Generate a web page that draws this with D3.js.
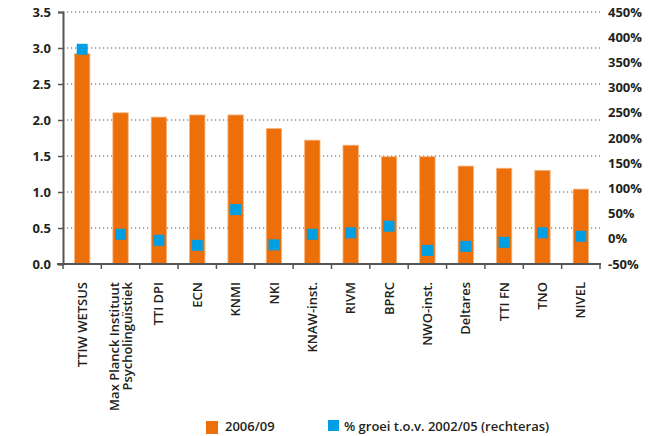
<!DOCTYPE html>
<html><head><meta charset="utf-8">
<script src="https://cdn.jsdelivr.net/npm/d3@7"></script>
<style>
body{margin:0;background:#fff;}
text{font-family:"Open Sans",sans-serif;font-weight:600;fill:#231f20;}
</style></head>
<body><svg id="c" width="648" height="436"></svg>
<script>
const categories = ["TTIW WETSUS","Max Planck Instituut|Psycholinguïstiek","TTI DPI","ECN","KNMI","NKI","KNAW-inst.","RIVM","BPRC","NWO-inst.","Deltares","TTI FN","TNO","NIVEL"];
const values2006 = [2.92,2.10,2.04,2.07,2.07,1.88,1.72,1.65,1.49,1.49,1.36,1.33,1.30,1.04];
const growth = [376,9,-3,-13,58,-12,9,12,25,-23,-15,-7,12,5];
const leftTicks = [0,0.5,1.0,1.5,2.0,2.5,3.0,3.5];
const rightTicks = [-50,0,50,100,150,200,250,300,350,400,450];
const legendLabels = ["2006/09","% groei t.o.v. 2002/05 (rechteras)"];

const orange = "#ec6f0a", blue = "#009fe3";
const svg = d3.select("#c");
const L = 63, R = 600, T = 12, B = 264;

const x = d3.scaleBand().domain(categories).range([L,R]).paddingInner(0.6).paddingOuter(0.3);
const y = d3.scaleLinear().domain([0,3.5]).range([B,T]);
const y2 = d3.scaleLinear().domain([-50,450]).range([B,T]);

// gridlines
svg.append("g").selectAll("line").data(leftTicks.filter(d=>d>0)).join("line")
  .attr("x1",L).attr("x2",R).attr("y1",d=>y(d)).attr("y2",d=>y(d))
  .attr("stroke","#555").attr("stroke-width",1.2).attr("stroke-dasharray","1.2,2.8");

// bars
svg.append("g").selectAll("rect").data(categories).join("rect")
  .attr("x",d=>x(d)).attr("width",x.bandwidth())
  .attr("y",(d,i)=>y(values2006[i])).attr("height",(d,i)=>B-y(values2006[i]))
  .attr("fill",orange).attr("stroke","#f6b27a").attr("stroke-width",0.8);

// squares
const s = 11;
svg.append("g").selectAll("rect").data(categories).join("rect")
  .attr("x",d=>x(d)+x.bandwidth()/2-s/2).attr("width",s)
  .attr("y",(d,i)=>y2(growth[i])-s/2).attr("height",s)
  .attr("fill",blue);

// left axis
const la = d3.axisLeft(y).tickValues(leftTicks).tickFormat(d3.format(".1f")).tickSize(5).tickPadding(7);
const gl = svg.append("g").attr("transform",`translate(${L},0)`).call(la);
gl.select(".domain").attr("stroke","#555").attr("stroke-width",2);
gl.selectAll(".tick line").attr("stroke","#555").attr("stroke-width",1.5);
gl.selectAll("text").style("font-size","13px").style("font-weight","700").attr("fill","#231f20");

// right axis labels
const ra = d3.axisRight(y2).tickValues(rightTicks).tickFormat(d=>d+"%").tickSize(0).tickPadding(8);
const gr = svg.append("g").attr("transform",`translate(${R},0)`).call(ra);
gr.select(".domain").remove();
gr.selectAll("text").style("font-size","13px").style("font-weight","700").attr("fill","#231f20");

// bottom axis
const step = x.step();
const tickX = d3.range(categories.length+1).map(i=>x(categories[0])+x.bandwidth()/2-step/2+i*step);
svg.append("line").attr("x1",L-6).attr("x2",R+1).attr("y1",B).attr("y2",B).attr("stroke","#555").attr("stroke-width",2);
svg.append("g").selectAll("line").data(tickX).join("line")
  .attr("x1",d=>d).attr("x2",d=>d).attr("y1",B).attr("y2",B+5).attr("stroke","#555").attr("stroke-width",1.5);

// category labels
const lab = svg.append("g").selectAll("text").data(categories).join("text")
  .attr("transform",d=>`translate(${x(d)+x.bandwidth()/2},282) rotate(-90)`)
  .attr("text-anchor","end").style("font-size","13px");
lab.each(function(d){
  const parts = d.split("|");
  const t = d3.select(this);
  parts.forEach((p,j)=>{
    t.append("tspan").attr("x",0).attr("dy", parts.length===1 ? "0.35em" : (j===0 ? "-0.15em" : "1.0em")).text(p);
  });
});

// legend
const lg = svg.append("g");
lg.append("rect").attr("x",206).attr("y",421).attr("width",12).attr("height",13).attr("fill",orange);
lg.append("text").attr("x",225).attr("y",431).style("font-size","13px").text(legendLabels[0]);
lg.append("rect").attr("x",328).attr("y",420).attr("width",11).attr("height",11).attr("fill",blue);
lg.append("text").attr("x",344).attr("y",431).style("font-size","13px").text(legendLabels[1]);
</script></body></html>
